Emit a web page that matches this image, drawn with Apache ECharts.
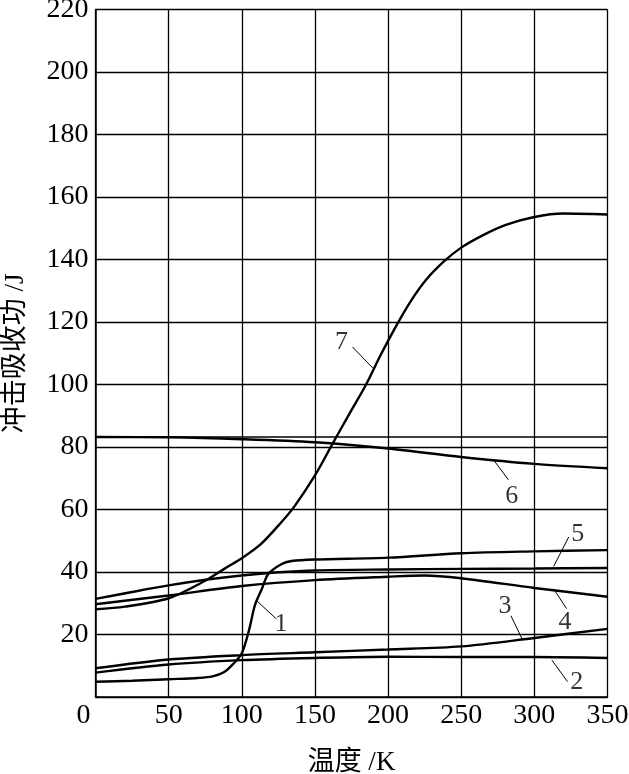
<!DOCTYPE html>
<html>
<head>
<meta charset="utf-8">
<script src="https://cdn.jsdelivr.net/npm/echarts@6/dist/echarts.min.js"></script>
<style>
html,body{margin:0;padding:0;background:#fff;}
#chart{width:629px;height:774px;}
</style>
</head>
<body>
<div id="chart"></div>
<script>
// ---- data (temperature K, impact energy J) ----
const xTicks = [0, 50, 100, 150, 200, 250, 300, 350];
const yTicks = [0, 20, 40, 60, 80, 100, 120, 140, 160, 180, 200, 220];
const curve1 = [[0,4.9],[25,5.2],[50,5.7],[70,6.1],[80,6.6],[88,8],[94,10.5],[100,14],[105,21.5],[109,29.4],[114,34.9],[118,39.3],[127,42.5],[134,43.5],[150,44],[200,44.6],[250,46],[300,46.6],[350,47]];
const curve2 = [[0,7.8],[50,10.4],[100,11.8],[150,12.5],[200,12.9],[250,12.8],[300,12.8],[350,12.5]];
const curve3 = [[0,9.2],[50,12.0],[100,13.4],[150,14.3],[200,15.2],[250,16.2],[300,18.9],[350,21.8]];
const curve4 = [[0,29.7],[50,32.5],[100,35.5],[150,37.4],[200,38.5],[225,38.9],[250,38],[300,34.9],[350,32.1]];
const curve5 = [[0,31.4],[25,33.6],[50,35.7],[75,37.5],[100,38.9],[125,39.9],[150,40.5],[200,40.8],[250,41.0],[300,41.1],[350,41.3]];
const curve6 = [[0,83.2],[50,83.1],[100,82.5],[150,81.5],[200,79.5],[250,76.8],[300,74.6],[350,73.2]];
const curve7 = [[0,28.1],[20,28.9],[50,31.6],[75,37.2],[88,41],[100,44.4],[113,48.9],[127,55.9],[136,61],[150,70.9],[162,81],[174,91],[185,100],[195,109.5],[205,118.3],[215,126.3],[226,133.5],[238,139.3],[250,143.8],[265,147.8],[280,151],[300,153.6],[320,154.7],[350,154.4]];
const refLineY = 83.2;
const curveLabels = [[126.8,23.2,'1'],[329,4.7,'2'],[280,29.2,'3'],[321,23.8,'4'],[329.7,52.2,'5'],[284.6,64.4,'6'],[168.2,113.6,'7']];
const leaders = [
  [[110,30.9],[123.6,25]],
  [[312,11.8],[322.7,4.9]],
  [[284,26],[291.6,18.6]],
  [[313.2,34.6],[322,28.3]],
  [[323.5,51.2],[313.2,41.8]],
  [[272.4,75.7],[282.3,69.5]],
  [[175.7,112],[189.5,105.3]]
];
const xName = '温度 /K';
const yName = '冲击吸收功 /J';

const FONT = '"Liberation Serif", "Noto Sans CJK SC", serif';
const chart = echarts.init(document.getElementById('chart'), null, {renderer: 'canvas'});

function curveSeries(data) {
  return {
    type: 'line', data: data, smooth: 0.3,
    showSymbol: false, symbol: 'none', silent: true,
    lineStyle: {color: '#000', width: 2.4}, z: 5
  };
}

const series = [curve1, curve2, curve3, curve4, curve5, curve6, curve7].map(curveSeries);
series.push({
  type: 'line', symbol: 'none', silent: true,
  data: [[xTicks[0], refLineY], [xTicks[xTicks.length - 1], refLineY]],
  lineStyle: {color: '#000', width: 1.3}, z: 3,
  markLine: {
    symbol: ['none', 'none'], silent: true, animation: false,
    label: {show: false},
    lineStyle: {color: '#000', width: 1, type: 'solid'},
    data: leaders.map(l => [{coord: l[0]}, {coord: l[1]}])
  }
});
series.push({
  type: 'scatter', symbolSize: 1, silent: true,
  itemStyle: {color: 'rgba(0,0,0,0)'},
  data: curveLabels,
  label: {
    show: true, position: 'inside', formatter: p => p.value[2],
    color: '#000', fontSize: 26, fontFamily: FONT
  }, z: 6
});

chart.setOption({
  animation: false,
  backgroundColor: '#fff',
  grid: {left: 95.5, right: 21.5, top: 9.5, bottom: 77, containLabel: false, outerBoundsMode: 'none'},
  xAxis: {
    type: 'value', min: xTicks[0], max: xTicks[xTicks.length - 1], interval: 50,
    name: xName, nameLocation: 'middle', nameGap: 52,
    nameTextStyle: {color: '#000', fontSize: 27, fontFamily: FONT},
    axisLine: {show: true, lineStyle: {color: '#000', width: 1.5}},
    axisTick: {show: false},
    splitLine: {show: true, lineStyle: {color: '#000', width: 1.3}},
    axisLabel: {
      color: '#000', fontSize: 28, fontFamily: FONT, margin: 5, hideOverlap: false,
      formatter: v => v === 0 ? '{z|0}' : String(v),
      rich: {z: {fontSize: 28, fontFamily: FONT, color: '#000', padding: [0, 24, 0, 0]}}
    }
  },
  yAxis: {
    type: 'value', min: yTicks[0], max: yTicks[yTicks.length - 1], interval: 20,
    name: yName, nameLocation: 'middle', nameGap: 66,
    nameTextStyle: {color: '#000', fontSize: 27, fontFamily: FONT},
    axisLine: {show: true, lineStyle: {color: '#000', width: 1.5}},
    axisTick: {show: false},
    splitLine: {show: true, lineStyle: {color: '#000', width: 1.3}},
    axisLabel: {
      color: '#000', fontSize: 28, fontFamily: FONT, margin: 7,
      formatter: v => v === 0 ? '' : String(v)
    }
  },
  series: series
});
</script>
</body>
</html>
